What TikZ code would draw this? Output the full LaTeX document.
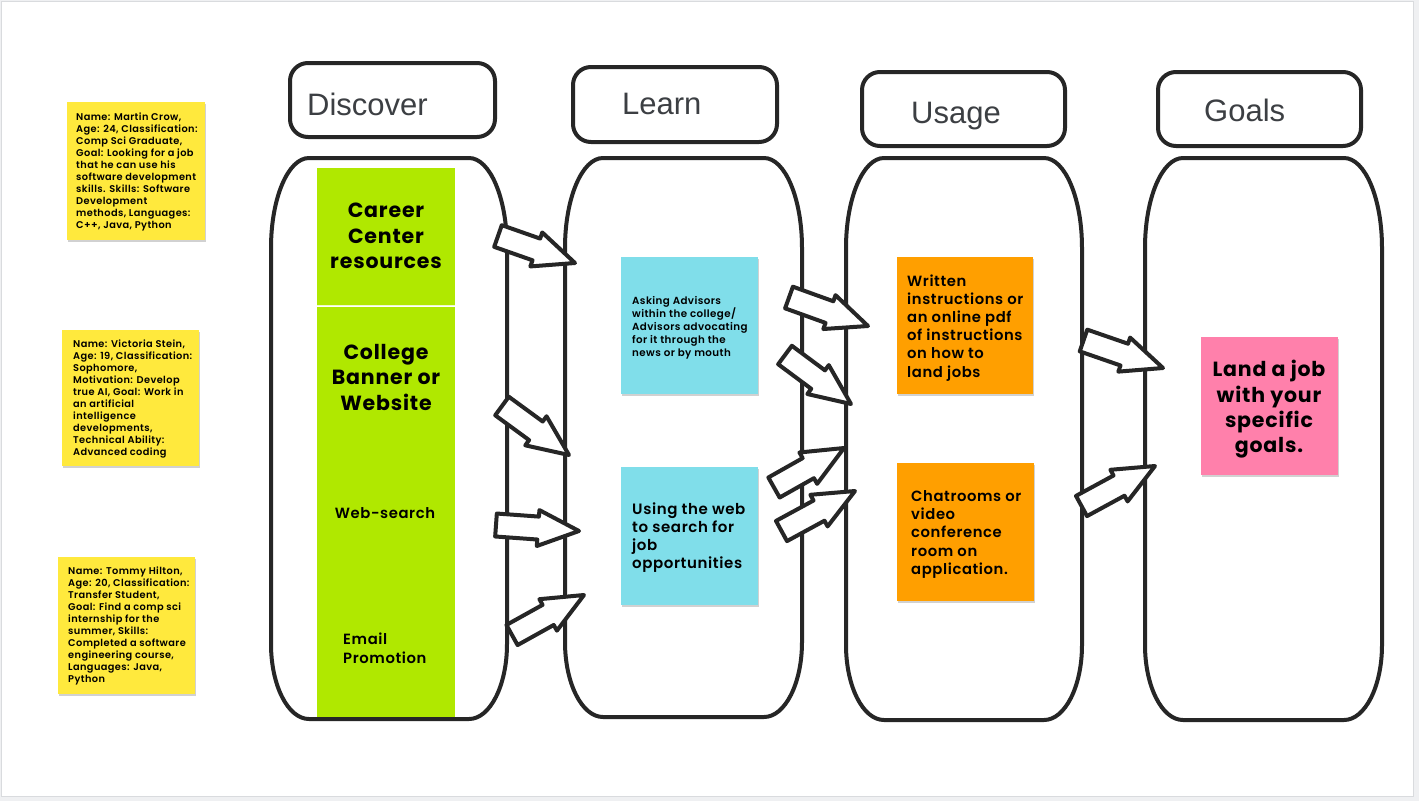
\documentclass[tikz,border=0pt]{standalone}
\usepackage{fontspec}
\setmainfont{Liberation Sans}
\newfontfamily\popb{Poppins Bold}[LetterSpace=4]
\newfontfamily\popsb{Poppins SemiBold}[LetterSpace=4]
\usetikzlibrary{calc,shadows}
\definecolor{ink}{HTML}{262626}
\definecolor{hdrtext}{HTML}{3C3F43}
\definecolor{grn}{HTML}{B0E800}
\definecolor{cyn}{HTML}{80DEEA}
\definecolor{org}{HTML}{FF9F00}
\definecolor{pnk}{HTML}{FF80AB}
\definecolor{yel}{HTML}{FFE93D}
\definecolor{framegray}{HTML}{D9DBDE}
\definecolor{outergray}{HTML}{EFF0F2}

\newcommand\capsule[4]{%
  \draw[col] ({#1+38},#2) -- ({#3-38},#2)
    .. controls ({#3-17},#2) and (#3,{#2+40.3}) .. (#3,{#2+90})
    -- (#3,{#4-75})
    .. controls (#3,{#4-33.6}) and ({#3-17},#4) .. ({#3-38},#4)
    -- ({#1+38},#4)
    .. controls ({#1+17},#4) and (#1,{#4-33.6}) .. (#1,{#4-75})
    -- (#1,{#2+90})
    .. controls (#1,{#2+40.3}) and ({#1+17},#2) .. cycle;}

\newcommand\blockarrow[2]{%
  \path ($(#2)!41pt!(#1)$) coordinate (hb);
  \draw[blockarr] ($(#1)!11.5pt!90:(#2)$) -- ($(hb)!11.5pt!90:(#2)$)
    -- ($(hb)!18pt!90:(#2)$) -- (#2) -- ($(hb)!18pt!-90:(#2)$)
    -- ($(hb)!11.5pt!-90:(#2)$) -- ($(#1)!11.5pt!-90:(#2)$) -- cycle;}

\tikzset{
  col/.style={draw=ink, line width=4pt, fill=white},
  hdr/.style={draw=ink, line width=4pt, rounded corners=18pt, fill=white, inner sep=0pt},
  htext/.style={font=\fontsize{31}{37}\selectfont, text=hdrtext, inner sep=0pt, anchor=base west},
  sticky/.style={inner sep=0pt, anchor=north west},
  shad/.style={drop shadow={shadow xshift=0.5pt, shadow yshift=-1.5pt, opacity=0.18, fill=black}},
  blockarr/.style={draw=ink, line width=4pt, fill=white, line join=round},
  ntext/.style={font=\popsb\fontsize{9.8}{12}\selectfont, align=left, inner sep=0pt, anchor=north west},
  smalltext/.style={font=\popsb\fontsize{10.3}{13}\selectfont, align=left, inner sep=0pt, anchor=north west},
  midtext/.style={font=\popsb\fontsize{14.8}{18.2}\selectfont, align=left, inner sep=0pt, anchor=north west},
  bigtext/.style={font=\popb\fontsize{20.5}{25.4}\selectfont, align=center, inner sep=0pt, anchor=north}
}

\begin{document}
\begin{tikzpicture}[x=1pt, y=-1pt]
\useasboundingbox (0,0) rectangle (1419,801);
\fill[outergray] (0,0) rectangle (1419,801);
\draw[framegray, line width=1.5pt, fill=white] (1.5,1.5) rectangle (1413.5,796.5);

% columns
\capsule{271}{158}{507}{719}
\capsule{565}{158}{802}{717}
\capsule{846}{158}{1082}{720}
\capsule{1145}{158}{1382}{720}

% headers
\node[hdr, minimum width=205pt, minimum height=74pt] (hdisc) at (392.5,100) {};
\node[hdr, minimum width=204pt, minimum height=75pt] (hlearn) at (675,104.5) {};
\node[hdr, minimum width=203pt, minimum height=74pt] (husage) at (963.5,109) {};
\node[hdr, minimum width=203pt, minimum height=74pt] (hgoals) at (1259.5,109) {};
\node[htext] (tdisc) at (307,115) {Discover};
\node[htext] (tlearn) at (622,114) {Learn};
\node[htext] (tusage) at (911,123) {Usage};
\node[htext] (tgoals) at (1204,121) {Goals};

% persona notes
\node[sticky, shad, fill=yel, minimum width=138pt, minimum height=138pt] (n1) at (67,102) {};
\node[sticky, shad, fill=yel, minimum width=137pt, minimum height=136pt] (n2) at (62,330) {};
\node[sticky, shad, fill=yel, minimum width=137pt, minimum height=137pt] (n3) at (58,557) {};
\node[ntext] (n1t) at (76,113) {Name: Martin Crow,\\Age: 24, Classification:\\Comp Sci Graduate,\\Goal: Looking for a job\\that he can use his\\software development\\skills. Skills: Software\\Development\\methods, Languages:\\C++, Java, Python};
\node[ntext] (n2t) at (73,340) {Name: Victoria Stein,\\Age: 19, Classification:\\Sophomore,\\Motivation: Develop\\true AI, Goal: Work in\\an artificial\\intelligence\\developments,\\Technical Ability:\\Advanced coding};
\node[ntext] (n3t) at (68,567) {Name: Tommy Hilton,\\Age: 20, Classification:\\Transfer Student,\\Goal: Find a comp sci\\internship for the\\summer, Skills:\\Completed a software\\engineering course,\\Languages: Java,\\Python};

% discover stickies
\node[sticky, fill=grn, minimum width=138pt, minimum height=137pt] (g1) at (317,168) {};
\node[sticky, fill=grn, minimum width=138pt, minimum height=137pt] (g2) at (317,307) {};
\node[sticky, fill=grn, minimum width=138pt, minimum height=137pt] (g3) at (317,444) {};
\node[sticky, fill=grn, minimum width=138pt, minimum height=137pt] (g4) at (317,580) {};
\draw[white!80!grn, line width=1pt] (g1.south west) -- (g1.south east);
\node[bigtext] (g1t) at (386,203) {Career\\Center\\resources};
\node[bigtext] (g2t) at (386,344) {College\\Banner or\\Website};
\node[font=\popsb\fontsize{14.8}{18}\selectfont, inner sep=0pt] (g3t) at (385,513) {Web-search};
\node[midtext] (g4t) at (343,633) {Email\\Promotion};

% learn stickies
\node[sticky, shad, fill=cyn, minimum width=137pt, minimum height=137pt] (c1) at (621,257) {};
\node[sticky, shad, fill=cyn, minimum width=137pt, minimum height=138pt] (c2) at (621,467) {};
\node[smalltext] (c1t) at (632,296) {Asking Advisors\\within the college/\\Advisors advocating\\for it through the\\news or by mouth};
\node[font=\popsb\fontsize{15}{18}\selectfont, align=left, inner sep=0pt, anchor=north west] (c2t) at (632,503) {Using the web\\to search for\\job\\opportunities};

% usage stickies
\node[sticky, shad, fill=org, minimum width=136pt, minimum height=137pt] (o1) at (897,257) {};
\node[sticky, shad, fill=org, minimum width=137pt, minimum height=138pt] (o2) at (897,463) {};
\node[midtext] (o1t) at (907,274.3) {Written\\instructions or\\an online pdf\\of instructions\\on how to\\land jobs};
\node[midtext] (o2t) at (911,490.3) {Chatrooms or\\video\\conference\\room on\\application.};

% goal sticky
\node[sticky, shad, fill=pnk, minimum width=137pt, minimum height=138pt] (p1) at (1201,337) {};
\node[bigtext] (p1t) at (1269,360) {Land a job\\with your\\specific\\goals.};

% arrow end points
\coordinate (a1s) at (498,236);    \coordinate (a1e) at (575,263);
\coordinate (a2s) at (502,406);    \coordinate (a2e) at (569,455);
\coordinate (a3s) at (496,525);    \coordinate (a3e) at (579,531);
\coordinate (a4s) at (512,635);    \coordinate (a4e) at (584,595);
\coordinate (a5s) at (789,297.5);  \coordinate (a5e) at (868,326);
\coordinate (a6s) at (785,355);    \coordinate (a6e) at (851,404);
\coordinate (a7s) at (774,487.5);  \coordinate (a7e) at (844,448);
\coordinate (a8s) at (781.5,531);  \coordinate (a8e) at (855,491);
\coordinate (a9s) at (1083.5,340.5); \coordinate (a9e) at (1163,368);
\coordinate (a10s) at (1081.5,506); \coordinate (a10e) at (1155,466);

\blockarrow{a1s}{a1e}
\blockarrow{a2s}{a2e}
\blockarrow{a3s}{a3e}
\blockarrow{a4s}{a4e}
\blockarrow{a5s}{a5e}
\blockarrow{a6s}{a6e}
\blockarrow{a7s}{a7e}
\blockarrow{a8s}{a8e}
\blockarrow{a9s}{a9e}
\blockarrow{a10s}{a10e}
\end{tikzpicture}
\end{document}
